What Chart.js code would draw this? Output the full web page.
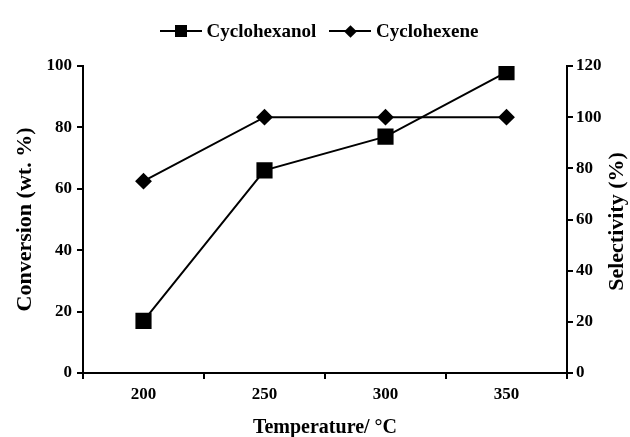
<!DOCTYPE html>
<html lang="en">
<head>
  <meta charset="UTF-8">
  <title>Conversion and Selectivity vs Temperature</title>
  <script src="https://cdn.jsdelivr.net/npm/chart.js"></script>
  <style>
    body { margin: 0; background: #fff; }
    #wrap { position: relative; width: 630px; height: 437px; }
    #legend {
      position: absolute; top: 19px; left: 0; width: 630px;
      text-align: center; font-family: "Liberation Serif", serif;
      font-weight: bold; font-size: 19px; color: #000; line-height: 24px;
      padding-left: 8px; box-sizing: border-box;
    }
    .item { display: inline-block; margin: 0 4px; }
    .key { display: inline-block; position: relative; width: 42px; height: 14px; vertical-align: -1px; margin-right: 5px; }
    .key .ln { position: absolute; left: 0; right: 0; top: 6px; border-top: 2px solid #000; }
    .key .sq { position: absolute; left: 15px; top: 1px; width: 12px; height: 12px; background: #000; }
    .key .dm { position: absolute; left: 17px; top: 3px; width: 9px; height: 9px; background: #000; transform: rotate(45deg); }
  </style>
</head>
<body>
  <div id="wrap">
    <canvas id="chart" width="630" height="437"></canvas>
    <div id="legend">
      <span class="item"><span class="key"><span class="ln"></span><span class="sq"></span></span>Cyclohexanol</span>
      <span class="item"><span class="key"><span class="ln"></span><span class="dm"></span></span>Cyclohexene</span>
    </div>
  </div>

  <script>
    // values
    const temperatures = ['200', '250', '300', '350'];
    const cyclohexanolConversion = [17, 66, 77, 98];   // left axis, wt.%
    const cyclohexeneSelectivity = [75, 100, 100, 100]; // right axis, %

    const serif = '"Liberation Serif", "Times New Roman", serif';
    const tickFont = { family: serif, weight: 'bold', size: 17 };
    const titleFont = { family: serif, weight: 'bold', size: 20 };

    // right axis title reads bottom-to-top in the original
    const rightTitle = {
      id: 'rightTitle',
      afterDraw(chart) {
        const ctx = chart.ctx;
        const area = chart.chartArea;
        ctx.save();
        ctx.translate(617, (area.top + area.bottom) / 2 + 2);
        ctx.rotate(-Math.PI / 2);
        ctx.font = 'bold 22px ' + serif;
        ctx.fillStyle = '#000';
        ctx.textAlign = 'center';
        ctx.textBaseline = 'middle';
        ctx.fillText('Selectivity (%)', 0, 0);
        ctx.restore();
      }
    };

    const axisGrid = { display: true, drawOnChartArea: false, tickLength: 6, color: '#000', lineWidth: 2 };
    const axisBorder = { display: true, color: '#000', width: 2 };

    new Chart(document.getElementById('chart'), {
      type: 'line',
      data: {
        labels: temperatures,
        datasets: [
          {
            label: 'Cyclohexanol',
            data: cyclohexanolConversion,
            yAxisID: 'y',
            borderColor: '#000',
            backgroundColor: '#000',
            borderWidth: 2,
            pointStyle: 'rect',
            pointRadius: 10,
            pointHoverRadius: 10,
            tension: 0
          },
          {
            label: 'Cyclohexene',
            data: cyclohexeneSelectivity,
            yAxisID: 'y1',
            borderColor: '#000',
            backgroundColor: '#000',
            borderWidth: 2,
            pointStyle: 'rectRot',
            pointRadius: 7,
            pointHoverRadius: 7,
            tension: 0
          }
        ]
      },
      options: {
        responsive: false,
        animation: false,
        layout: { padding: { top: 66, left: 0, right: 0, bottom: 0 } },
        plugins: {
          legend: { display: false },
          tooltip: { enabled: false }
        },
        scales: {
          x: {
            offset: true,
            grid: { ...axisGrid, offset: true },
            border: axisBorder,
            ticks: { color: '#000', font: tickFont, padding: 5 },
            title: { display: true, text: 'Temperature/ °C', color: '#000', font: titleFont, padding: { top: 0, bottom: -3 } },
            afterFit: s => { s.height = 64; }
          },
          y: {
            position: 'left',
            min: 0, max: 100,
            ticks: { stepSize: 20, color: '#000', font: tickFont, padding: 5 },
            grid: axisGrid,
            border: axisBorder,
            title: { display: true, text: 'Conversion (wt. %)', color: '#000', font: { ...titleFont, size: 22 }, padding: { top: 12, bottom: 0 } },
            afterFit: s => { s.width = 83; }
          },
          y1: {
            position: 'right',
            min: 0, max: 120,
            ticks: { stepSize: 20, color: '#000', font: tickFont, padding: 3 },
            grid: axisGrid,
            border: axisBorder,
            afterFit: s => { s.width = 63; }
          }
        }
      },
      plugins: [rightTitle]
    });
  </script>
</body>
</html>
